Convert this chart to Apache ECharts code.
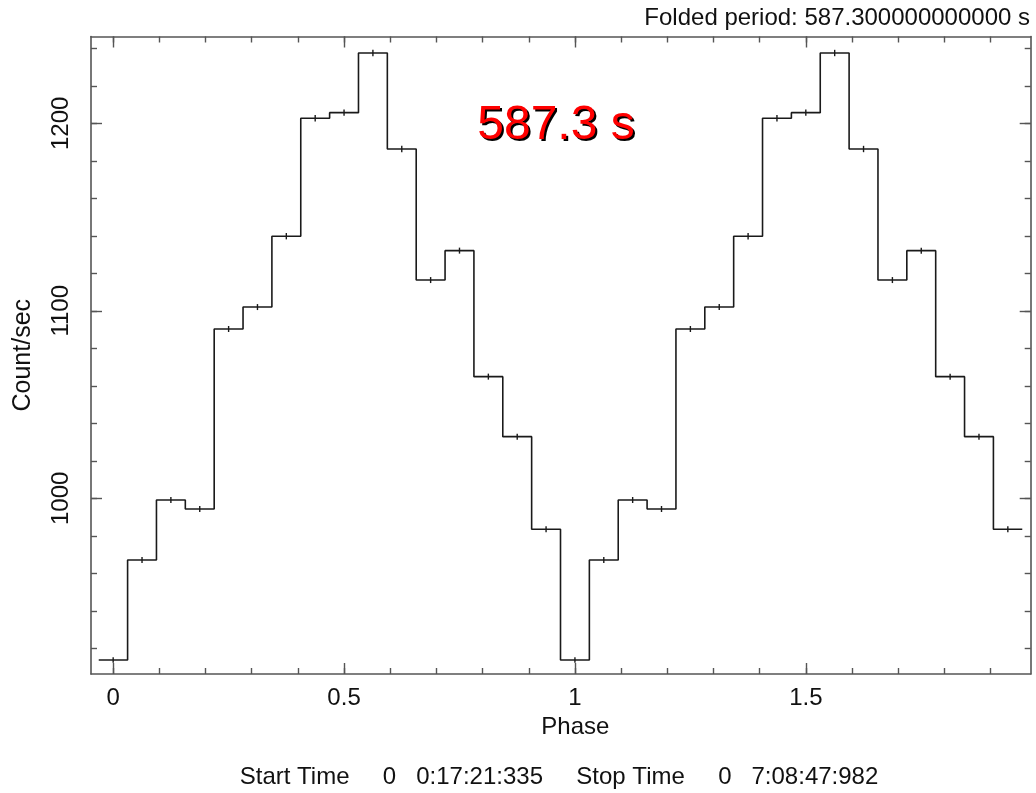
<!DOCTYPE html>
<html>
<head>
<meta charset="utf-8">
<script src="https://cdn.jsdelivr.net/npm/echarts@6/dist/echarts.min.js"></script>
<style>
html,body{margin:0;padding:0;background:#fff;}
#chart{width:1036px;height:793px;}
</style>
</head>
<body>
<div id="chart"></div>
<script>
// ---- data ----
const binPhase = [0, 0.0625, 0.125, 0.1875, 0.25, 0.3125, 0.375, 0.4375, 0.5, 0.5625, 0.625, 0.6875, 0.75, 0.8125, 0.875, 0.9375];
const countRate = [913.8, 967.1, 999.1, 994.3, 1090.3, 1102.0, 1139.8, 1202.7, 1205.7, 1237.5, 1186.3, 1116.4, 1132.1, 1064.9, 1032.9, 983.5];
const rateError = [1.5, 1.6, 1.6, 1.6, 1.6, 1.6, 1.7, 1.7, 1.7, 1.7, 1.7, 1.6, 1.6, 1.6, 1.6, 1.6];
const binWidth = 0.0625;
const nCycles = 2;
const xMajorTicks = [0, 0.5, 1, 1.5];
const xMinorTicks = [0, 0.1, 0.2, 0.3, 0.4, 0.5, 0.6, 0.7, 0.8, 0.9, 1, 1.1, 1.2, 1.3, 1.4, 1.5, 1.6, 1.7, 1.8, 1.9];
const yMajorTicks = [1000, 1100, 1200];
const yMinorTicks = [920, 940, 960, 980, 1000, 1020, 1040, 1060, 1080, 1100, 1120, 1140, 1160, 1180, 1200, 1220, 1240];
const titleText = 'Folded period: 587.300000000000 s';
const periodLabel = '587.3 s';
const timeText = 'Start Time     0   0:17:21:335     Stop Time     0   7:08:47:982';

// ---- build folded table over two cycles ----
const bins = [];
for (let c = 0; c < nCycles; c++) {
  for (let i = 0; i < binPhase.length; i++) {
    bins.push([binPhase[i] + c, countRate[i], rateError[i]]);
  }
}
const stepPts = [];
bins.forEach(b => {
  stepPts.push([b[0] - binWidth / 2, b[1]]);
  stepPts.push([b[0] + binWidth / 2, b[1]]);
});

const FONT = "'Liberation Sans', Arial, sans-serif";
const AX = '#555';
const XMIN = -0.048, XMAX = 1.987, YMIN = 906.3, YMAX = 1246.3;
const plain = v => String(v);

function xAx(pos, vals, len, showLine, showLabel) {
  return {
    type: 'value', position: pos, min: XMIN, max: XMAX,
    axisLine: { show: showLine, onZero: false, lineStyle: { color: AX, width: 1.6 } },
    axisTick: { show: true, inside: true, length: len, customValues: vals, lineStyle: { color: AX, width: 1.4 } },
    axisLabel: { show: showLabel, customValues: xMajorTicks, formatter: plain, margin: 12, color: '#111', fontSize: 24, fontFamily: FONT },
    splitLine: { show: false },
    name: showLabel ? 'Phase' : '', nameLocation: 'middle', nameGap: 36,
    nameTextStyle: { color: '#111', fontSize: 24, fontFamily: FONT, padding: [0, 0, 0, 29] }
  };
}
function yAx(pos, vals, len, showLine, showLabel) {
  return {
    type: 'value', position: pos, min: YMIN, max: YMAX,
    axisLine: { show: showLine, onZero: false, lineStyle: { color: AX, width: 1.6 } },
    axisTick: { show: true, inside: true, length: len, customValues: vals, lineStyle: { color: AX, width: 1.4 } },
    axisLabel: { show: showLabel, customValues: yMajorTicks, formatter: plain, rotate: 90, margin: 18, color: '#111', fontSize: 24, fontFamily: FONT },
    splitLine: { show: false },
    name: showLabel ? 'Count/sec' : '', nameLocation: 'middle', nameGap: 55, nameRotate: 90,
    nameTextStyle: { color: '#111', fontSize: 25, fontFamily: FONT }
  };
}

const chart = echarts.init(document.getElementById('chart'));
chart.setOption({
  animation: false,
  backgroundColor: '#fff',
  grid: { left: 91, top: 36.5, right: 5.3, bottom: 119, containLabel: false, outerBoundsMode: 'none' },
  xAxis: [
    xAx('bottom', xMajorTicks, 11, true, true),
    xAx('bottom', xMinorTicks, 6, false, false),
    xAx('top', xMajorTicks, 11, true, false),
    xAx('top', xMinorTicks, 6, false, false)
  ],
  yAxis: [
    yAx('left', yMajorTicks, 11, true, true),
    yAx('left', yMinorTicks, 6, false, false),
    yAx('right', yMajorTicks, 11, true, false),
    yAx('right', yMinorTicks, 6, false, false)
  ],
  series: [
    {
      type: 'line', data: stepPts, xAxisIndex: 0, yAxisIndex: 0,
      symbol: 'none', lineStyle: { color: '#1a1a1a', width: 1.6 }, clip: true
    },
    {
      type: 'custom', xAxisIndex: 0, yAxisIndex: 0, data: bins,
      renderItem: function (params, api) {
        const x = api.value(0), v = api.value(1), e = api.value(2);
        const p1 = api.coord([x, v - e]);
        const p2 = api.coord([x, v + e]);
        return { type: 'line', shape: { x1: p1[0], y1: p1[1], x2: p2[0], y2: p2[1] },
                 style: { stroke: '#1a1a1a', lineWidth: 1.4 } };
      }
    }
  ],
  graphic: [
    { type: 'text', x: 1030, y: 18, style: { text: titleText, align: 'right', verticalAlign: 'middle', fill: '#111', font: '24px ' + FONT } },
    { type: 'text', x: 558, y: 128, style: { text: periodLabel, align: 'center', verticalAlign: 'middle', fill: '#000', font: "48px 'Liberation Sans', Arial, sans-serif" } },
    { type: 'text', x: 556, y: 126, style: { text: periodLabel, align: 'center', verticalAlign: 'middle', fill: '#ff0000', font: "48px 'Liberation Sans', Arial, sans-serif" } },
    { type: 'text', x: 559, y: 777, style: { text: timeText, align: 'center', verticalAlign: 'middle', fill: '#111', font: '24px ' + FONT } }
  ]
});
</script>
</body>
</html>
